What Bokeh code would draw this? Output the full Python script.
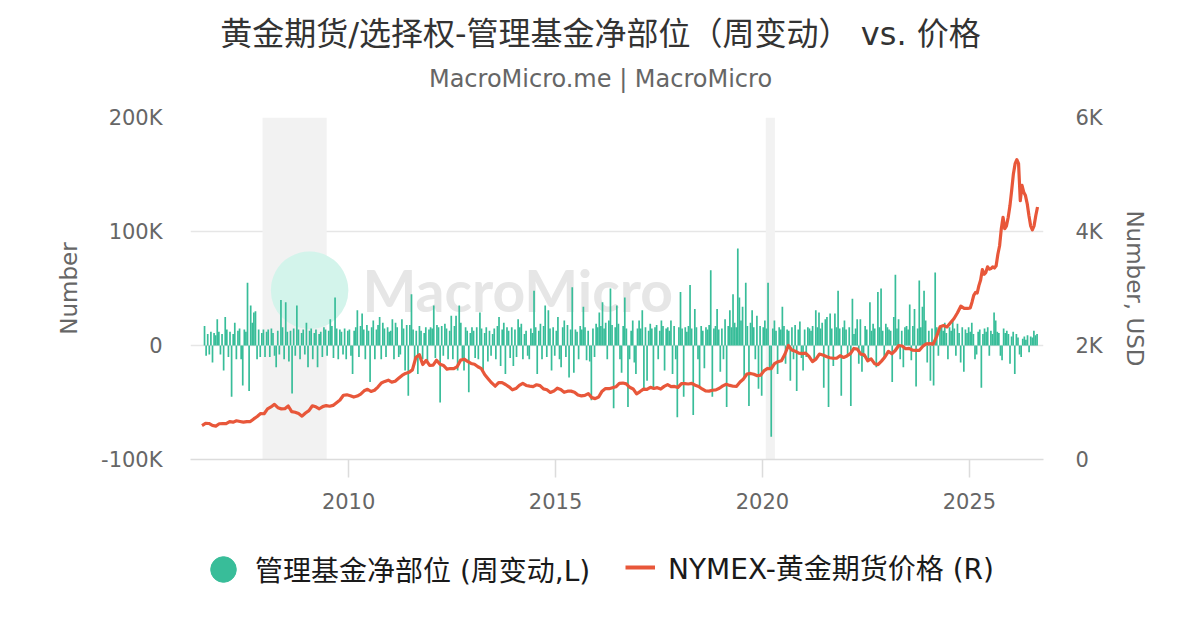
from bokeh.plotting import figure
from bokeh.layouts import column
from bokeh.models import (Range1d, LinearAxis, FixedTicker, Label, Legend,
                          LegendItem, BoxAnnotation, ColumnDataSource)
from bokeh.embed import file_html
from bokeh.resources import INLINE

# ---------------- data ----------------
# Managed-money net position, bi-weekly change (thousand contracts), by year
net_2006 = [17, -9, 10, -8, 12, -15, 11, 9, 23, 12, -8, 10, -22]   # starts mid-year (slot 13)
net_2007 = [25, 14, -10, 12, -45, 10, 20, -12, 13, 15, -12, -35, 14, 12, 55, -40, 35, 20, 29, 30, -12, 14, -10, 11, 14, -10]
net_2008 = [12, 14, -10, 15, 11, -9, -19, 13, -8, 40, 16, -12, 38, 12, -14, 13, -42, 15, -9, 35, 14, -12, 11, 14, -8, 20]
net_2009 = [-19, 13, 15, -12, 11, 14, -19, 10, 12, -10, 16, 14, -9, 13, 23, 17, -11, 42, 15, -12, 14, 12, -8, 15, -12, 13]
net_2010 = [14, -9, -25, 13, 16, 31, -10, 17, 28, 14, -12, 18, 13, -32, 16, 22, -12, 14, 18, 25, -12, 20, 15, -10, 16, 12]
net_2011 = [13, 23, -12, 20, 16, -10, -8, 23, 15, -22, 18, -44, 18, 45, 14, -12, 13, -25, 17, 13, -12, 11, 16, -15, 14, 16]
net_2012 = [15, 35, -11, 18, 16, -50, 17, -9, 19, 15, -12, 13, 26, -12, 17, 26, -22, 35, 20, -11, -22, 16, 13, -41, 11, 16]
net_2013 = [13, -11, 16, -12, 29, 15, -22, 11, 16, -14, 13, -9, 10, 15, -12, 17, 25, -18, 14, 20, -25, 16, 13, -11, 16, -18]
net_2014 = [14, -10, 23, 16, 19, -12, 10, 13, -9, -12, 15, 11, 48, 16, -25, 13, 19, -12, 17, 35, -10, 31, 15, -22, 16, -9]
net_2015 = [13, 25, -12, -19, 16, 22, -10, 18, -28, 14, 51, -24, 14, 12, -12, 17, 14, 34, 16, -13, 13, -14, -48, 15, -10, 19]
net_2016 = [16, 29, 17, 38, 15, 20, -12, 22, 50, 18, -55, 16, 35, 19, -12, -24, 17, 42, 15, -54, -12, 13, 22, -15, -25, 15]
net_2017 = [22, 15, 31, -38, 16, -31, 13, 19, 15, -38, 16, 18, -12, 13, 22, 17, -22, 15, 16, 13, 22, -25, 17, -12, -63, 16]
net_2018 = [47, 15, -45, 16, 12, 17, 53, 15, -61, 32, 16, -12, -37, 17, 13, -20, 16, 14, 18, 66, -45, 15, 17, 32, 14, -23]
net_2019 = [15, -12, 23, -54, 17, 31, 16, 45, 20, 16, 85, 42, 22, 34, -29, 55, 17, -53, 20, 31, 16, -12, 26, -38, 17, -44]
net_2020 = [16, 22, 15, 55, -20, -80, 15, 22, 13, -25, 16, 14, 34, 17, -16, 14, 13, -31, 16, -12, 18, -40, 14, 21, -11, -22]
net_2021 = [14, -10, 16, 15, 13, 17, -12, 31, 16, 29, 15, 20, -37, 23, 25, -54, 28, 15, -18, 28, 16, 48, 15, -44, 16, 22]
net_2022 = [14, -9, 16, -53, 41, 10, 15, 23, -16, 23, -23, -10, 17, 14, -12, 38, 13, 19, 15, -19, 47, 16, 50, 13, -12, 19]
net_2023 = [16, 14, 13, -32, 25, 62, 15, 23, -12, 13, -19, 16, 17, 14, 36, -13, 17, 32, -36, 15, 57, 16, 34, 48, 22, -15]
net_2024 = [13, -31, 15, -35, 64, 16, -9, 14, 16, 13, 20, 11, -12, 16, 13, 22, 15, -9, 19, 11, -15, 16, -23, 14, 11, 16]
net_2025 = [12, 20, 10, -12, -8, 12, 14, -37, 10, 15, 12, 16, -9, 13, 10, 29, 22, 12, 11, -9, -13, 15, 11, 13, 10, -16]
net_2026 = [8, 12, -25, 10, 7, -8, -10, 6, 8, 5, 9, -6, 8, 7, 13, 9, 10]

# NYMEX gold futures price (USD), monthly 2006-2024 (2006 from June)
gold_2006 = [596, 633, 632, 598, 586, 627, 629]
gold_2007 = [631, 665, 655, 679, 667, 655, 665, 665, 712, 754, 806, 803]
gold_2008 = [889, 922, 968, 909, 888, 890, 939, 839, 829, 806, 760, 816]
gold_2009 = [858, 943, 924, 890, 928, 946, 934, 949, 996, 1043, 1127, 1135]
gold_2010 = [1118, 1095, 1113, 1148, 1205, 1232, 1193, 1215, 1271, 1342, 1370, 1391]
gold_2011 = [1357, 1373, 1424, 1474, 1510, 1529, 1573, 1790, 1840, 1666, 1739, 1652]
gold_2012 = [1656, 1742, 1673, 1650, 1585, 1596, 1594, 1630, 1744, 1760, 1721, 1685]
gold_2013 = [1671, 1627, 1593, 1487, 1414, 1343, 1286, 1347, 1348, 1316, 1275, 1222]
gold_2014 = [1244, 1300, 1336, 1299, 1287, 1279, 1311, 1296, 1239, 1223, 1176, 1200]
gold_2015 = [1251, 1227, 1179, 1198, 1199, 1181, 1131, 1117, 1125, 1157, 1086, 1068]
gold_2016 = [1097, 1199, 1246, 1242, 1260, 1276, 1337, 1341, 1326, 1267, 1238, 1152]
gold_2017 = [1192, 1234, 1231, 1267, 1246, 1260, 1236, 1283, 1315, 1280, 1282, 1265]
gold_2018 = [1331, 1331, 1325, 1335, 1303, 1282, 1238, 1202, 1199, 1215, 1221, 1250]
gold_2019 = [1291, 1320, 1300, 1285, 1284, 1359, 1413, 1500, 1510, 1495, 1470, 1480]
gold_2020 = [1560, 1597, 1592, 1683, 1716, 1732, 1846, 2000, 1922, 1900, 1866, 1858]
gold_2021 = [1867, 1808, 1718, 1760, 1850, 1834, 1807, 1785, 1776, 1777, 1821, 1790]
gold_2022 = [1817, 1856, 1948, 1937, 1848, 1837, 1732, 1765, 1681, 1665, 1726, 1798]
gold_2023 = [1898, 1855, 1912, 2000, 1991, 1943, 1951, 1918, 1916, 1916, 1986, 2030]
gold_2024 = [2033, 2024, 2160, 2330, 2350, 2326, 2398, 2470, 2570, 2690, 2650, 2650]
# semi-monthly 2025-2026
gold_2025 = [2660, 2760, 2880, 2930, 2920, 3050, 3150, 3330, 3250, 3280, 3380, 3340,
             3350, 3380, 3360, 3400, 3600, 3750, 4050, 4250, 4050, 4100, 4250, 4450]
gold_2026 = [4720, 5010, 5190, 5260, 5190, 4540, 4810, 4690, 4630, 4490, 4280, 4100,
             4030, 4100, 4280, 4430]

recession_start = [2007.92, 2020.08]
recession_end = [2009.47, 2020.30]

left_ticks = [-100, 0, 100, 200]
left_labels = ["-100K", "0", "100K", "200K"]
right_ticks = [0, 2000, 4000, 6000]
right_labels = ["0", "2K", "4K", "6K"]
year_ticks = [2010, 2015, 2020, 2025]

TITLE = "黄金期货/选择权-管理基金净部位（周变动） vs. 价格"
SUBTITLE = "MacroMicro.me | MacroMicro"
LEG_BAR = "管理基金净部位 (周变动,L)"
LEG_LINE = "NYMEX-黄金期货价格 (R)"

GREEN = "#38bd99"
RED = "#e8573a"
FONT = "DejaVu Sans, Noto Sans CJK SC"
W = 1184
FL, FR = 190, 1043   # plot frame edges (pixels); header/footer frames align to these

# ---------------- assemble positions ----------------
net_years = {2006: net_2006, 2007: net_2007, 2008: net_2008, 2009: net_2009, 2010: net_2010,
             2011: net_2011, 2012: net_2012, 2013: net_2013, 2014: net_2014, 2015: net_2015,
             2016: net_2016, 2017: net_2017, 2018: net_2018, 2019: net_2019, 2020: net_2020,
             2021: net_2021, 2022: net_2022, 2023: net_2023, 2024: net_2024, 2025: net_2025,
             2026: net_2026}
bx, by = [], []
for yr, vals in net_years.items():
    start = 26 - len(vals) if yr == 2006 else 0
    for i, v in enumerate(vals):
        bx.append(yr + (start + i + 0.5) / 26.0)
        by.append(v)

gold_monthly = {2006: gold_2006, 2007: gold_2007, 2008: gold_2008, 2009: gold_2009,
                2010: gold_2010, 2011: gold_2011, 2012: gold_2012, 2013: gold_2013,
                2014: gold_2014, 2015: gold_2015, 2016: gold_2016, 2017: gold_2017,
                2018: gold_2018, 2019: gold_2019, 2020: gold_2020, 2021: gold_2021,
                2022: gold_2022, 2023: gold_2023, 2024: gold_2024}
gx, gy = [], []
for yr, vals in gold_monthly.items():
    start = 12 - len(vals) if yr == 2006 else 0
    for i, v in enumerate(vals):
        gx.append(yr + (start + i + 0.5) / 12.0)
        gy.append(v)
for yr, vals in {2025: gold_2025, 2026: gold_2026}.items():
    for i, v in enumerate(vals):
        gx.append(yr + (i + 0.5) / 24.0)
        gy.append(v)


def blank(height):
    f = figure(width=W, height=height, output_backend="svg", toolbar_location=None,
               x_range=Range1d(FL, FR), y_range=Range1d(0, height),
               x_axis_location=None, y_axis_location=None,
               min_border_left=FL, min_border_right=W - FR,
               min_border_top=0, min_border_bottom=0)
    f.outline_line_color = None
    f.grid.visible = False
    return f


# ---------------- title block ----------------
head = blank(100)
head.add_layout(Label(x=600, y=67, text=TITLE, text_font=FONT, text_font_size="32px",
                      text_color="#333333", text_align="center", text_baseline="middle"))
head.add_layout(Label(x=600, y=22, text=SUBTITLE, text_font=FONT, text_font_size="24px",
                      text_color="#666666", text_align="center", text_baseline="middle"))

# ---------------- main chart ----------------
p = figure(width=W, height=430, output_backend="svg", toolbar_location=None,
           x_range=Range1d(2006.18, 2026.79), y_range=Range1d(-100, 200),
           min_border_left=FL, min_border_right=W - FR, min_border_top=17,
           min_border_bottom=71)
p.outline_line_color = None
p.xgrid.visible = False
p.ygrid.ticker = FixedTicker(ticks=left_ticks)
p.ygrid.grid_line_color = "#e6e6e6"
p.ygrid.grid_line_width = 1.5
p.extra_y_ranges = {"price": Range1d(0, 6000)}

for s, e in zip(recession_start, recession_end):
    p.add_layout(BoxAnnotation(left=s, right=e, fill_color="#f2f2f2", fill_alpha=1.0,
                               line_color=None, level="underlay"))

# watermark
p.add_layout(Label(x=309, y=178, x_units="canvas", y_units="canvas", text="●",
                   text_font_size="180px", text_color="#d3f4eb", text_align="center",
                   text_baseline="middle", level="underlay"))
p.add_layout(Label(x=362, y=189, x_units="canvas", y_units="canvas", text="MacroMicro",
                   text_font="Lato", text_font_size="57px",
                   text_font_style="bold", text_color="#e6e6e6", text_align="left",
                   text_baseline="middle", level="underlay"))

bars = ColumnDataSource(dict(x=bx, top=by))
p.vbar(x="x", top="top", bottom=0, width=15 / 365.25, source=bars,
       fill_color=GREEN, line_color=None)
gsrc = ColumnDataSource(dict(x=gx, y=gy))
p.line(x="x", y="y", source=gsrc, y_range_name="price", line_color=RED,
       line_width=3.2, line_join="round")

la = p.left[0]
la.ticker = FixedTicker(ticks=left_ticks)
la.major_label_overrides = dict(zip(left_ticks, left_labels))
la.axis_label = "Number"
la.major_label_standoff = 28
la.axis_label_standoff = 16

ra = LinearAxis(y_range_name="price", ticker=FixedTicker(ticks=right_ticks),
                major_label_overrides=dict(zip(right_ticks, right_labels)),
                axis_label="Number, USD")
ra.major_label_standoff = 32
ra.axis_label_standoff = 16
p.add_layout(ra, "right")

for ax in (la, ra):
    ax.axis_line_color = None
    ax.major_tick_line_color = None
    ax.minor_tick_line_color = None
    ax.major_tick_out = 0
    ax.major_tick_in = 0

ba = p.below[0]
for ax in (la, ra, ba):
    ax.major_label_text_font = FONT
    ax.major_label_text_font_size = "21px"
    ax.major_label_text_color = "#666666"
    ax.axis_label_text_font = FONT
    ax.axis_label_text_font_size = "23px"
    ax.axis_label_text_font_style = "normal"
    ax.axis_label_text_color = "#666666"

ba.ticker = FixedTicker(ticks=year_ticks)
ba.major_label_overrides = {t: str(t) for t in year_ticks}
ba.axis_line_color = "#dcdcdc"
ba.axis_line_width = 1.5
ba.major_tick_line_color = "#dcdcdc"
ba.major_tick_line_width = 1.5
ba.major_tick_in = 0
ba.major_tick_out = 18
ba.minor_tick_line_color = None
ba.major_label_standoff = 15

# ---------------- legend block ----------------
foot = blank(84)
nan = float("nan")
dot = foot.scatter(x=[nan], y=[nan], marker="circle", size=26,
                   fill_color=GREEN, line_color=GREEN)
seg = foot.line(x=[nan, nan], y=[nan, nan], line_color=RED, line_width=4)
leg1 = Legend(items=[LegendItem(label=LEG_BAR, renderers=[dot])], location=(1, 13),
              orientation="horizontal", glyph_width=64, glyph_height=64, label_standoff=0,
              padding=0, margin=0, border_line_color=None, background_fill_alpha=0,
              label_text_font=FONT, label_text_font_size="28px", label_text_color="#1a1a1a")
leg2 = Legend(items=[LegendItem(label=LEG_LINE, renderers=[seg])], location=(435, 27),
              orientation="horizontal", glyph_width=30, glyph_height=30, label_standoff=13,
              label_height=30, padding=0, margin=0, border_line_color=None,
              background_fill_alpha=0, label_text_font=FONT, label_text_font_size="28px",
              label_text_color="#1a1a1a")
foot.add_layout(leg1, "center")
foot.add_layout(leg2, "center")

layout = column(head, p, foot, spacing=0)
open("out.html", "w").write(file_html(layout, INLINE))
